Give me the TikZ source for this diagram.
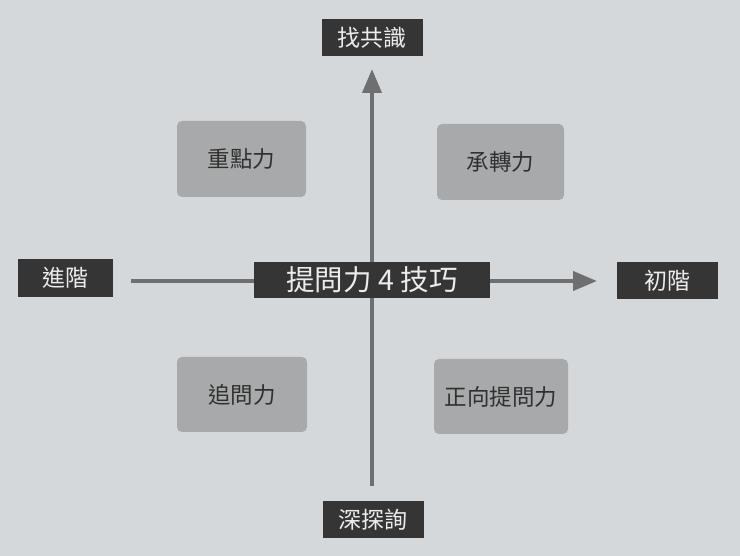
\documentclass[tikz,border=0pt]{standalone}
\usepackage{fontspec}
\newfontfamily\cjk{Noto Sans CJK TC}
\usetikzlibrary{arrows.meta}
\definecolor{bg}{HTML}{D5D8DB}
\definecolor{darkbox}{HTML}{353535}
\definecolor{graybox}{HTML}{A8A9AA}
\definecolor{axis}{HTML}{6E6F70}
\definecolor{lighttext}{HTML}{ECECEC}
\definecolor{darktext}{HTML}{303030}
\tikzset{
  x=1pt, y=-1pt,
  darklabel/.style={fill=darkbox, text=lighttext, inner sep=0pt, minimum width=101pt, minimum height=37pt, font=\cjk\fontsize{23}{26}\selectfont},
  quad/.style={fill=graybox, text=darktext, rounded corners=5pt, inner sep=0pt, minimum width=130pt, minimum height=75pt, font=\cjk\fontsize{22.5}{26}\selectfont},
  axisline/.style={draw=axis, line width=4pt, -{Triangle[length=24pt,width=19pt]}},
}
\begin{document}
\begin{tikzpicture}
\fill[bg] (0,0) rectangle (740,556);
\useasboundingbox (0,0) rectangle (740,556);
% axes coordinates
\coordinate (hs) at (131,281);
\coordinate (he) at (597,281);
\coordinate (vs) at (372,486);
\coordinate (ve) at (372,69);
\draw[axisline] (hs) -- (he);
\draw[axisline] (vs) -- (ve);
% labels
\node[darklabel] (top) at (372,37.5) {找共識};
\node[darklabel] (bottom) at (373,519.5) {深探詢};
\node[darklabel, minimum width=95pt, minimum height=38pt] (left) at (65.5,278) {進階};
\node[darklabel] (right) at (667,281) {初階};
\node[darklabel, minimum width=236pt, minimum height=36pt, font=\cjk\fontsize{28.5}{32}\selectfont] (center) at (372,280) {提問力 4 技巧};
% quadrants
\node[quad, minimum width=129pt, minimum height=76pt] (q1) at (241.5,159) {重點力};
\node[quad, minimum width=127pt, minimum height=76pt] (q2) at (500.5,162) {承轉力};
\node[quad] (q3) at (242,394.5) {追問力};
\node[quad, minimum width=134pt] (q4) at (501,396.5) {正向提問力};
\end{tikzpicture}
\end{document}
